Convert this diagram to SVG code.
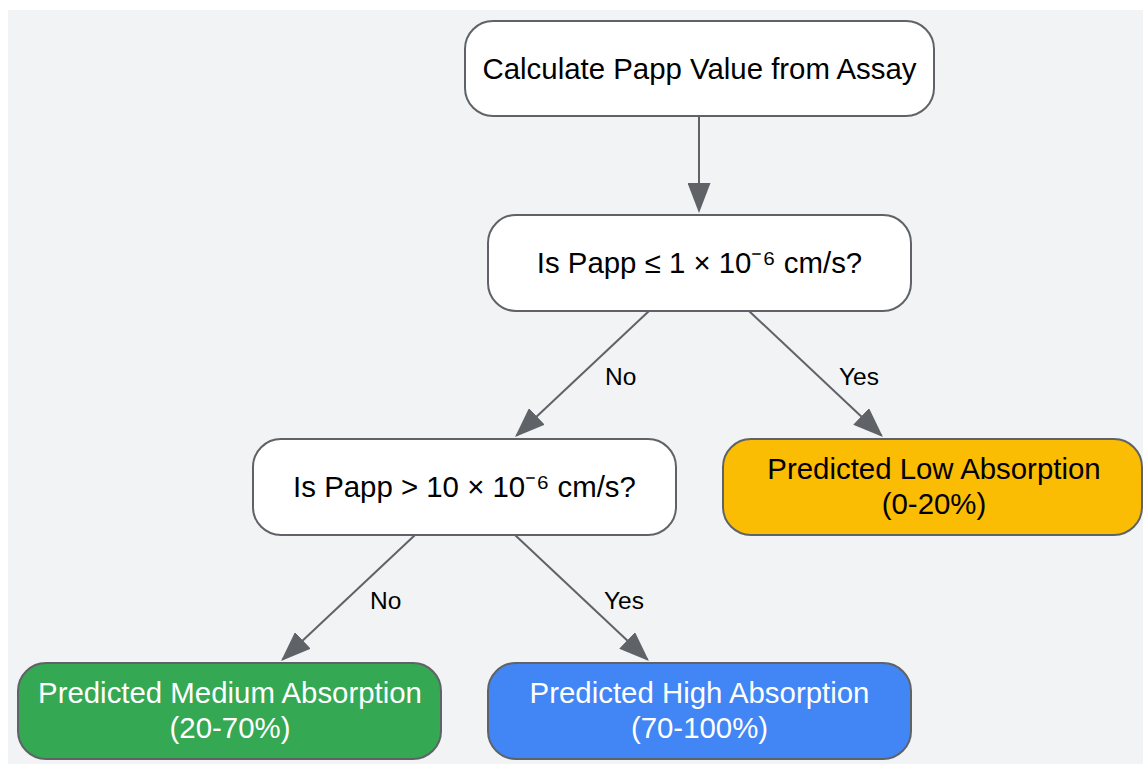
<svg xmlns="http://www.w3.org/2000/svg" width="1143" height="764" viewBox="0 0 1143 764">
<defs>
<style>
.node rect{stroke:#5f6368;stroke-width:2}
.w rect{fill:#ffffff}
.t{font-family:"Liberation Sans",Arial,sans-serif;font-size:29.4px;text-anchor:middle;fill:#000000}
.sup{font-size:32px}
.lt{fill:#ffffff}
.edge{stroke:#5f6368;stroke-width:2;fill:none;marker-end:url(#arr)}
.lbl{font-family:"Liberation Sans",Arial,sans-serif;font-size:24.5px;fill:#000000}
</style>
<marker id="arr" markerUnits="userSpaceOnUse" markerWidth="30" markerHeight="23" refX="28" refY="11.5" orient="auto" viewBox="0 0 30 23">
<path d="M0,0 L30,11.5 L0,23 z" fill="#5f6368"/>
</marker>
</defs>
<rect x="8" y="10" width="1135" height="754" fill="#f1f3f4"/>
<g id="connectors">
<path class="edge" d="M699,116 L699,211"/>
<path class="edge" d="M649,311 L516.5,435.6"/>
<path class="edge" d="M749,311 L881.5,435.6"/>
<path class="edge" d="M415,535 L282.5,659.6"/>
<path class="edge" d="M515,535 L647.5,659.6"/>
<text class="lbl" x="605" y="385">No</text>
<text class="lbl" x="839" y="385">Yes</text>
<text class="lbl" x="370" y="609">No</text>
<text class="lbl" x="604" y="609">Yes</text>
</g>
<g id="n_calc" class="node w">
<rect x="465" y="21" width="469" height="95" rx="28"/>
<text class="t" x="699.5" y="79">Calculate Papp Value from Assay</text>
</g>
<g id="n_q1" class="node w">
<rect x="488" y="215" width="423" height="96" rx="28"/>
<text class="t" x="699.5" y="273">Is Papp ≤ 1 × 10<tspan class="sup">⁻⁶</tspan> cm/s?</text>
</g>
<g id="n_q2" class="node w">
<rect x="253" y="439" width="423" height="96" rx="28"/>
<text class="t" x="464.5" y="497">Is Papp &gt; 10 × 10<tspan class="sup">⁻⁶</tspan> cm/s?</text>
</g>
<g id="n_low" class="node">
<rect x="723" y="439" width="419" height="96" rx="28" fill="#fbbc04"/>
<text class="t" x="934" y="479">Predicted Low Absorption</text>
<text class="t" x="934" y="514">(0-20%)</text>
</g>
<g id="n_med" class="node">
<rect x="18" y="663" width="423" height="96" rx="28" fill="#34a853"/>
<text class="t lt" x="230" y="703">Predicted Medium Absorption</text>
<text class="t lt" x="230" y="738">(20-70%)</text>
</g>
<g id="n_high" class="node">
<rect x="488" y="663" width="423" height="96" rx="28" fill="#4285f4"/>
<text class="t lt" x="699.5" y="703">Predicted High Absorption</text>
<text class="t lt" x="699.5" y="738">(70-100%)</text>
</g>
</svg>
